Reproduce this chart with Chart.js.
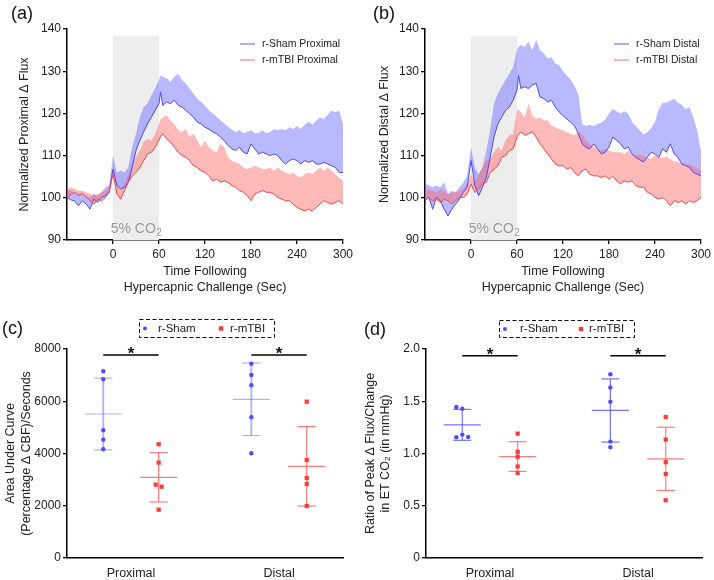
<!DOCTYPE html>
<html>
<head>
<meta charset="utf-8">
<script src="https://cdn.jsdelivr.net/npm/chart.js@4"></script>
<style>
html,body{margin:0;padding:0;background:#fff;}
body{width:714px;height:580px;position:relative;overflow:hidden;font-family:Arial,'Liberation Sans',Helvetica,sans-serif;}
canvas{position:absolute;}
.lab{position:absolute;font-size:18px;line-height:20px;color:#111;}
</style>
</head>
<body>
<canvas id="ca" width="357" height="300" style="left:0;top:0"></canvas>
<canvas id="cb" width="357" height="300" style="left:357px;top:0"></canvas>
<canvas id="cc" width="357" height="290" style="left:0;top:290px"></canvas>
<canvas id="cd" width="357" height="290" style="left:357px;top:290px"></canvas>
<div class="lab" style="left:11px;top:3px">(a)</div>
<div class="lab" style="left:373px;top:3px">(b)</div>
<div class="lab" style="left:2px;top:318px">(c)</div>
<div class="lab" style="left:364px;top:319px">(d)</div>
<script>
// ---------------- data ----------------
const timeSec = [-60,-55,-50,-45,-40,-35,-30,-25,-20,-15,-10,-5,0,3,5,10,15,20,25,30,35,40,45,50,55,60,62,65,70,75,80,85,90,95,100,105,110,115,120,125,130,135,140,145,150,155,160,165,170,175,180,185,190,195,200,205,210,215,220,225,230,235,240,245,250,255,260,265,270,275,280,285,290,295,300];
const timeTicks = [0,60,120,180,240,300];
const co2Window = [0,60];

const shamProxMean = [100.1,99.5,99.3,98.1,99.3,98.5,97.3,99.7,98.9,100.1,100.5,101.3,
 106.8,104.5,
 102.9,102.1,102.5,103.7,107.2,111.2,113.6,115.6,117.5,119.1,120.7,122.3,
 125.1,
 121.9,122.7,122.3,123.1,121.9,121.5,120.7,119.9,119.1,117.9,117.5,116.7,
 116.3,115.6,115.2,114.4,113.6,112.4,111.6,111.2,112.0,110.8,110.4,112.8,
 111.6,110.4,110.8,110.4,110.0,110.4,110.0,108.8,108.0,108.8,109.2,108.8,
 108.0,108.8,108.4,108.8,108.0,108.0,108.4,108.0,107.6,107.2,106.0,106.0];
const shamProxUpper = [102.1,101.7,101.3,101.0,101.3,100.5,100.1,101.0,100.5,101.3,102.5,102.9,
 110.0,107.5,
 106.0,106.4,106.0,107.2,112.0,115.2,119.1,121.5,122.3,124.3,125.9,127.9,
 129.0,
 128.7,128.3,127.5,128.7,129.4,127.9,127.1,125.9,124.7,123.5,122.7,121.8,
 120.8,120.0,119.2,118.4,117.6,116.8,116.2,115.6,116.0,115.3,115.6,116.0,
 115.3,115.3,116.0,115.3,115.6,116.3,116.0,116.3,116.0,116.7,116.3,117.0,
 116.3,117.3,118.0,117.3,118.3,119.0,118.7,119.7,120.7,120.3,120.7,117.5];
const mtbiProxMean = [100.1,100.7,101.3,100.5,100.9,100.1,99.3,98.5,99.7,99.3,100.1,101.3,
 105.6,102.9,
 100.9,99.7,101.7,103.7,105.2,106.0,107.2,108.8,110.4,110.8,112.0,113.6,
 114.5,
 115.2,114.0,113.2,112.0,110.8,110.0,109.6,108.8,107.6,107.2,106.4,106.0,
 105.2,104.0,104.4,103.7,104.0,103.7,102.9,102.5,101.7,101.3,100.5,99.3,
 100.9,101.3,101.7,101.3,101.3,100.9,100.1,99.7,99.3,99.3,98.5,97.7,
 97.3,96.9,97.3,96.9,97.7,98.5,99.3,98.9,98.5,98.9,99.3,98.5];
const mtbiProxUpper = [102.1,102.5,102.1,101.7,101.7,101.3,100.9,100.5,100.9,101.3,101.7,102.5,
 107.2,105.0,
 103.7,102.1,103.3,105.6,107.6,109.6,111.2,113.2,114.0,113.6,115.2,117.5,
 118.5,
 119.1,119.5,118.3,117.5,116.0,115.6,116.3,114.4,115.2,113.6,112.0,113.6,
 112.0,111.2,110.8,112.8,112.0,109.6,108.8,108.4,108.0,107.2,106.8,107.2,
 107.6,107.2,106.8,106.8,107.2,106.4,107.2,106.4,106.0,105.6,106.0,105.2,
 104.8,105.6,106.0,105.6,106.4,107.2,106.4,107.2,106.4,105.6,104.8,104.0];

const shamDistMean = [99.3,100.1,97.3,100.1,99.3,97.3,95.7,97.3,98.5,99.7,101.3,102.5,
 108.8,105.6,
 102.9,100.5,102.5,104.8,109.6,114.4,117.5,119.1,120.7,121.5,123.1,125.5,
 129.0,
 125.9,126.3,125.9,126.7,127.1,123.9,123.5,122.7,123.1,121.5,120.3,119.5,
 118.7,117.9,117.1,115.2,112.8,112.0,111.6,112.8,111.6,110.4,110.8,112.0,
 114.4,113.6,112.8,111.6,112.0,110.4,109.6,109.0,108.5,109.6,110.8,110.4,
 109.6,111.6,110.8,112.8,110.4,109.6,108.0,107.6,107.2,106.0,105.6,105.2];
const shamDistUpper = [103.7,102.9,102.5,102.9,102.5,103.7,100.9,101.7,101.3,102.5,103.7,105.2,
 112.0,109.0,
 107.2,105.6,107.2,111.2,116.0,122.3,124.7,126.3,127.9,129.4,131.0,135.0,
 135.8,
 136.2,135.8,137.0,135.0,137.4,135.0,134.2,133.0,133.3,131.8,131.4,130.0,
 129.0,128.0,126.5,124.5,117.5,117.0,117.3,117.0,117.5,117.8,118.5,120.0,
 121.0,120.5,120.0,120.5,120.0,118.0,117.0,116.0,115.0,115.5,116.5,118.0,
 121.0,122.5,122.5,123.0,123.5,122.5,122.0,121.0,121.5,119.0,116.0,111.0];
const mtbiDistMean = [99.3,100.1,99.3,99.7,98.9,99.7,99.3,98.5,99.3,100.1,100.1,100.9,
 103.3,102.0,
 101.3,102.1,103.3,103.7,106.0,106.8,107.6,109.6,110.0,111.2,111.6,114.4,
 115.0,
 115.6,114.8,115.2,115.6,114.4,112.8,111.6,110.4,109.2,108.0,107.6,107.6,
 106.8,107.2,106.0,105.2,106.4,106.8,105.6,105.2,105.2,104.8,105.2,104.4,
 105.2,104.0,103.3,104.0,103.7,104.0,102.9,102.5,102.5,101.3,100.9,100.1,
 99.7,100.1,99.3,98.1,99.3,98.9,99.3,98.5,99.3,98.9,99.3,100.1];
const mtbiDistUpper = [101.7,102.1,101.7,101.3,102.1,101.7,100.9,101.3,101.3,101.7,102.1,103.3,
 105.6,104.5,
 103.7,105.6,107.2,108.8,109.2,110.8,112.0,111.2,113.6,114.8,115.2,120.7,
 121.0,
 120.3,119.1,122.3,119.5,118.7,119.1,118.3,118.3,117.1,116.7,116.3,116.0,
 115.6,115.2,114.8,115.6,115.2,113.6,112.8,112.0,111.6,111.2,111.6,111.2,
 110.8,110.8,110.8,110.4,111.2,110.4,110.0,110.4,110.0,109.6,109.2,110.0,
 109.6,109.5,109.8,109.2,108.6,108.6,108.2,108.0,108.0,107.5,107.0,106.5];

const regions = ['Proximal','Distal'];
// (c) area under curve
const aucShamProx = [7147,6841,4888,4530,4160];
const aucMtbiProx = [4352,3649,2807,2730,1849];
const aucShamDist = [7439,7005,6610,5386,4007];
const aucMtbiDist = [5984,3751,3062,2833,1991];
const aucShamMean = [5512,6075];
const aucShamSd   = [1372,1390];
const aucMtbiMean = [3088,3510];
const aucMtbiSd   = [943,1520];
const aucMtbiProxJitter = [0,0,-0.02,0.02,0];
// (d) ratio
const ratioShamProx = [1.445,1.429,1.181,1.155,1.159];
const ratioMtbiProx = [1.190,1.016,0.969,0.876,0.813];
const ratioShamDist = [1.759,1.632,1.495,1.114,1.060];
const ratioMtbiDist = [1.349,1.133,0.917,0.803,0.552];
const ratioShamMean = [1.274,1.412];
const ratioShamSd   = [0.148,0.302];
const ratioMtbiMean = [0.971,0.949];
const ratioMtbiSd   = [0.142,0.303];
const ratioShamProxJitter = [-0.04,0,0,-0.04,0.04];

// ---------------- drawing ----------------
const FONT = "Arial, 'Liberation Sans', Helvetica, sans-serif";
Chart.defaults.font.family = FONT;
Chart.defaults.color = '#222';
Chart.defaults.animation = false;

const LINE_BLUE = '#4a4aff', LINE_RED = '#ff4646';
const BAND_BLUE = 'rgba(100,100,255,0.45)', BAND_RED = 'rgba(255,100,100,0.45)';

function pts(xs, ys){ return xs.map((x,i)=>({x:x, y:ys[i]})); }

const co2LabelPlugin = {
  id:'co2label',
  afterDatasetsDraw(chart){
    const {ctx, scales:{x,y}} = chart;
    const cx = x.getPixelForValue((co2Window[0]+co2Window[1])/2);
    const by = y.getPixelForValue(91.6);
    ctx.save();
    ctx.fillStyle = '#9a9a9a';
    ctx.textBaseline = 'alphabetic'; ctx.textAlign = 'left';
    ctx.font = '14px ' + FONT; const w1 = ctx.measureText('5% CO').width;
    ctx.font = '10px ' + FONT; const w2 = ctx.measureText('2').width;
    const sx = cx - (w1 + w2)/2;
    ctx.font = '14px ' + FONT; ctx.fillText('5% CO', sx, by);
    ctx.font = '10px ' + FONT; ctx.fillText('2', sx + w1 + 0.5, by + 3);
    ctx.restore();
  }
};

function lineLegend(items, x1, x2, tx){
  return {
    id:'lineLegend',
    afterDraw(chart){
      const ctx = chart.ctx;
      ctx.save();
      ctx.font = '10.5px ' + FONT; ctx.textBaseline = 'middle'; ctx.textAlign = 'left';
      items.forEach(it => {
        ctx.strokeStyle = it.color; ctx.lineWidth = 1.2;
        ctx.beginPath(); ctx.moveTo(x1, it.y); ctx.lineTo(x2, it.y); ctx.stroke();
        ctx.fillStyle = '#222'; ctx.fillText(it.text, tx, it.y);
      });
      ctx.restore();
    }
  };
}

function axisStyle(){
  return {
    grid:{display:true, drawOnChartArea:false, drawTicks:true, tickLength:4, color:'#000', lineWidth:1.3},
    border:{display:true, color:'#000', width:1.5}
  };
}

function timeChart(id, c){
  return new Chart(document.getElementById(id), {
    type:'line',
    data:{datasets:[
      {data: co2Window.map(t=>({x:t, y:138.3})), fill:'start', backgroundColor:'#ededed', borderWidth:0, pointRadius:0, order:10},
      {data: pts(timeSec, c.shamUpper), fill:2, backgroundColor:BAND_BLUE, borderWidth:0, borderColor:'rgba(0,0,0,0)', pointRadius:0, order:6},
      {data: pts(timeSec, c.shamMean), fill:false, borderColor:LINE_BLUE, borderWidth:1, pointRadius:0, order:2},
      {data: pts(timeSec, c.mtbiUpper), fill:4, backgroundColor:BAND_RED, borderWidth:0, borderColor:'rgba(0,0,0,0)', pointRadius:0, order:5},
      {data: pts(timeSec, c.mtbiMean), fill:false, borderColor:LINE_RED, borderWidth:1, pointRadius:0, order:1}
    ]},
    options:{
      responsive:false, animation:false,
      layout:{padding:{left:0, right:c.padRight, top:29, bottom:0}},
      elements:{line:{tension:0}},
      plugins:{legend:{display:false}, tooltip:{enabled:false}},
      scales:{
        x:Object.assign(axisStyle(), {
          type:'linear', min:-60, max:300,
          afterBuildTicks:s=>{ s.ticks = timeTicks.map(v=>({value:v})); },
          ticks:{font:{size:12}, color:'#222', padding:3, maxRotation:0, autoSkip:false, callback:v=>String(v)},
          title:{display:true, text:['Time Following','Hypercapnic Challenge (Sec)'], font:{size:12.5, lineHeight:1.28}, color:'#222', padding:{top:0, bottom:4}},
          afterFit:s=>{ s.height = 60; }
        }),
        y:Object.assign(axisStyle(), {
          min:90, max:140,
          ticks:{stepSize:10, font:{size:12}, color:'#222', padding:2},
          title:{display:true, text:c.yTitle, font:{size:12.5, lineHeight:1.2}, color:'#222', padding:{top:c.yTitlePad, bottom:0}},
          afterFit:s=>{ s.width = c.yWidth; }
        })
      }
    },
    plugins:[co2LabelPlugin, lineLegend(c.legend, c.legX1, c.legX2, c.legTx)]
  });
}

timeChart('ca', {
  shamMean:shamProxMean, shamUpper:shamProxUpper, mtbiMean:mtbiProxMean, mtbiUpper:mtbiProxUpper,
  padRight:14, yWidth:67, yTitle:'Normalized Proximal \u0394 Flux', yTitlePad:17.5,
  legend:[{text:'r-Sham Proximal', color:'#7777ff', y:44},{text:'r-mTBI Proximal', color:'#ff8080', y:60}],
  legX1:240, legX2:255, legTx:262
});
timeChart('cb', {
  shamMean:shamDistMean, shamUpper:shamDistUpper, mtbiMean:mtbiDistMean, mtbiUpper:mtbiDistUpper,
  padRight:12, yWidth:68, yTitle:'Normalized Distal \u0394 Flux', yTitlePad:20.5,
  legend:[{text:'r-Sham Distal', color:'#7777ff', y:44},{text:'r-mTBI Distal', color:'#ff8080', y:60}],
  legX1:257, legX2:272, legTx:279
});

// ---------- dot plots ----------
const ARM_OFF = 0.187, MEAN_HW = 0.125, CAP_HW = 0.061;

function seg(a, b, color, w){
  return {type:'line', data:[a,b], showLine:true, borderColor:color, borderWidth:w, pointRadius:0, fill:false, order:2};
}

function dotChart(id, c){
  const ds = [];
  const arms = [
    {pos:-ARM_OFF, mean:c.shamMean, sd:c.shamSd, col:c.shamBar, w:c.shamBarW},
    {pos: ARM_OFF, mean:c.mtbiMean, sd:c.mtbiSd, col:'rgba(255,90,90,0.8)', w:1.2}
  ];
  [1,2].forEach((g, gi) => {
    arms.forEach(a => {
      const cx = g + a.pos, m = a.mean[gi], s = a.sd[gi];
      ds.push(seg({x:cx-MEAN_HW,y:m},{x:cx+MEAN_HW,y:m}, a.col, 1.2));
      ds.push(seg({x:cx,y:m-s},{x:cx,y:m+s}, a.col, a.w));
      ds.push(seg({x:cx-CAP_HW,y:m+s},{x:cx+CAP_HW,y:m+s}, a.col, 1.2));
      ds.push(seg({x:cx-CAP_HW,y:m-s},{x:cx+CAP_HW,y:m-s}, a.col, 1.2));
    });
    ds.push(seg({x:g-ARM_OFF,y:c.sigY},{x:g+ARM_OFF,y:c.sigY}, '#000', 1.6));
  });
  const shamPts = [], mtbiPts = [];
  c.shamVals.forEach((vals, gi) => vals.forEach((v,i)=>shamPts.push({x:gi+1-ARM_OFF+(c.shamJit[gi][i]||0), y:v})));
  c.mtbiVals.forEach((vals, gi) => vals.forEach((v,i)=>mtbiPts.push({x:gi+1+ARM_OFF+(c.mtbiJit[gi][i]||0), y:v})));
  ds.push({type:'scatter', data:shamPts, pointStyle:'circle', pointRadius:2.2, backgroundColor:'#4d4dff', borderWidth:0, order:0});
  ds.push({type:'scatter', data:mtbiPts, pointStyle:'rect', pointRadius:3, backgroundColor:'#ff3a3a', borderWidth:0, order:0});

  const extras = {
    id:'dotExtras',
    afterDraw(chart){
      const {ctx, scales:{x,y}} = chart;
      ctx.save();
      ctx.fillStyle = '#111'; ctx.textAlign = 'center'; ctx.textBaseline = 'alphabetic';
      ctx.font = 'bold 17px ' + FONT;
      [1,2].forEach(g => ctx.fillText('*', x.getPixelForValue(g), y.getPixelForValue(c.sigY) + 4));
      const L = c.leg;
      ctx.setLineDash([4,2.5]); ctx.strokeStyle = '#111'; ctx.lineWidth = 1;
      ctx.strokeRect(L.x0 + 0.5, L.y0 + 0.5, L.x1 - L.x0, L.y1 - L.y0);
      ctx.setLineDash([]);
      const my = (L.y0 + L.y1)/2 + 0.5;
      ctx.fillStyle = '#4d4dff'; ctx.beginPath(); ctx.arc(L.dot, my, 2, 0, Math.PI*2); ctx.fill();
      ctx.fillStyle = '#ff3a3a'; ctx.fillRect(L.sq - 2.2, my - 2.2, 4.4, 4.4);
      ctx.fillStyle = '#222'; ctx.font = '11.5px ' + FONT; ctx.textAlign = 'left'; ctx.textBaseline = 'middle';
      ctx.fillText('r-Sham', L.t1, my); ctx.fillText('r-mTBI', L.t2, my);
      ctx.restore();
    }
  };

  return new Chart(document.getElementById(id), {
    type:'scatter',
    data:{datasets:ds},
    options:{
      responsive:false, animation:false,
      layout:{padding:{left:0, right:c.padRight, top:59, bottom:0}},
      plugins:{legend:{display:false}, tooltip:{enabled:false}},
      scales:{
        x:{
          type:'linear', min:0.568, max:2.432,
          afterBuildTicks:s=>{ s.ticks = [1,2].map(v=>({value:v})); },
          ticks:{font:{size:12.5}, color:'#222', padding:8, maxRotation:0, autoSkip:false, callback:v=>regions[v-1]},
          grid:{display:false, drawTicks:false},
          border:{display:true, color:'#000', width:1.5},
          afterFit:s=>{ s.height = 22; }
        },
        y:Object.assign(axisStyle(), {
          min:0, max:c.yMax,
          ticks:{stepSize:c.yStep, font:{size:12}, color:'#222', padding:2, callback:c.yFmt},
          title:{display:true, text:c.yTitle, font:{size:12.5, lineHeight:c.yLH}, color:'#222', padding:{top:c.yTitlePad, bottom:0}},
          afterFit:s=>{ s.width = c.yWidth; }
        })
      }
    },
    plugins:[extras]
  });
}

dotChart('cc', {
  shamMean:aucShamMean, shamSd:aucShamSd, mtbiMean:aucMtbiMean, mtbiSd:aucMtbiSd,
  shamVals:[aucShamProx, aucShamDist], mtbiVals:[aucMtbiProx, aucMtbiDist],
  shamJit:[[],[]], mtbiJit:[aucMtbiProxJitter,[]],
  shamBar:'rgba(110,110,255,0.55)', shamBarW:1.8,
  sigY:7770, yMax:8000, yStep:2000, yFmt:v=>String(v),
  yTitle:['Area Under Curve','(Percentage \u0394 CBF)/Seconds'], yLH:1.28, yTitlePad:3, yWidth:67, padRight:14,
  leg:{x0:139, y0:29, x1:274, y1:47, dot:145, t1:158, sq:221, t2:230}
});
dotChart('cd', {
  shamMean:ratioShamMean, shamSd:ratioShamSd, mtbiMean:ratioMtbiMean, mtbiSd:ratioMtbiSd,
  shamVals:[ratioShamProx, ratioShamDist], mtbiVals:[ratioMtbiProx, ratioMtbiDist],
  shamJit:[ratioShamProxJitter,[]], mtbiJit:[[],[]],
  shamBar:'rgba(80,80,255,0.8)', shamBarW:1.2,
  sigY:1.936, yMax:2.0, yStep:0.5, yFmt:v=>(v===0?'0':v.toFixed(1)),
  yTitle:['Ratio of Peak \u0394 Flux/Change','in ET CO\u2082 (in mmHg)'], yLH:1.16, yTitlePad:6.5, yWidth:69, padRight:12,
  leg:{x0:142, y0:30, x1:277, y1:47, dot:148, t1:163, sq:224, t2:232}
});
</script>
</body>
</html>
